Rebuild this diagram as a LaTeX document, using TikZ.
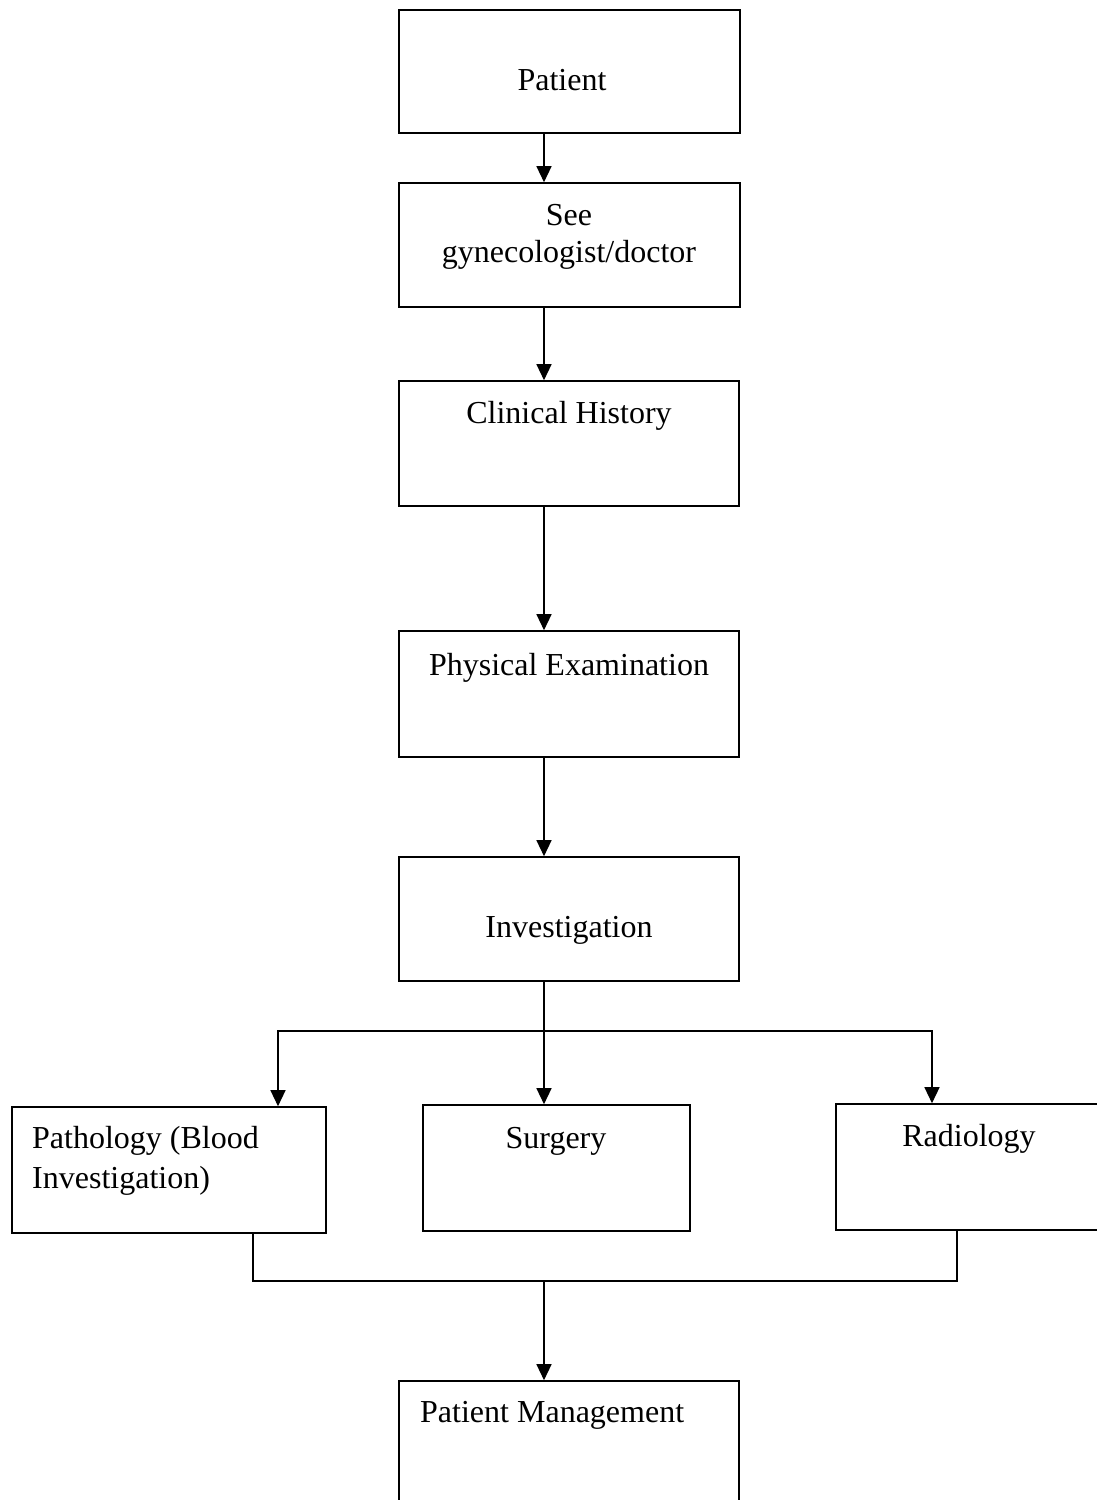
\documentclass[tikz,border=0pt]{standalone}
\usepackage{fontspec}
\setmainfont{Liberation Serif}
\usetikzlibrary{arrows.meta,fit}

\tikzset{
  box/.style={draw=black, line width=1.6pt, inner sep=0pt, fill=none},
  txt/.style={anchor=base, inner sep=0pt, font=\fontsize{32}{38}\selectfont},
  ltxt/.style={anchor=base west, inner sep=0pt, font=\fontsize{32}{38}\selectfont},
  link/.style={draw=black, line width=1.3pt},
  arr/.style={link, -{Triangle[length=16pt, width=15pt]}}
}

\begin{document}
\begin{tikzpicture}[x=1pt, y=-1pt]
  \useasboundingbox (0,0) rectangle (1097,1500);
  \clip (0,0) rectangle (1097,1500);
  \fill[white] (0,0) rectangle (1097,1500);

  % main column of boxes
  \node[box, fit={(399,10)(740,133)}]   (patient) {};
  \node[box, fit={(399,183)(740,307)}]  (see) {};
  \node[box, fit={(399,381)(739,506)}]  (clin) {};
  \node[box, fit={(399,631)(739,757)}]  (phys) {};
  \node[box, fit={(399,857)(739,981)}]  (inv) {};

  % the three branches
  \node[box, fit={(12,1107)(326,1233)}]   (path) {};
  \node[box, fit={(423,1105)(690,1231)}]  (surg) {};
  \node[box, fit={(836,1104)(1112,1230)}] (rad) {};

  % final box
  \node[box, fit={(399,1381)(739,1520)}] (mgmt) {};

  % labels
  \node[txt] at (562,90)  {Patient};
  \node[txt] at (569,225) {See};
  \node[txt] at (569,262) {gynecologist/doctor};
  \node[txt] at (569,423) {Clinical History};
  \node[txt] at (569,675) {Physical Examination};
  \node[txt] at (569,937) {Investigation};
  \node[ltxt] at (32,1148) {Pathology (Blood};
  \node[ltxt] at (32,1188) {Investigation)};
  \node[txt] at (556,1148) {Surgery};
  \node[txt] at (969,1146) {Radiology};
  \node[ltxt] at (420,1422) {Patient Management};

  % routing points
  \coordinate (spine) at (544,0);
  \coordinate (split) at (544,1031);
  \coordinate (lbr)   at (278,1031);
  \coordinate (rbr)   at (932,1031);
  \coordinate (lj)    at (253,1281);
  \coordinate (rj)    at (957,1281);
  \coordinate (join)  at (544,1281);

  % connectors down the column
  \draw[arr] (patient.south -| spine) -- (see.north -| spine);
  \draw[arr] (see.south -| spine) -- (clin.north -| spine);
  \draw[arr] (clin.south -| spine) -- (phys.north -| spine);
  \draw[arr] (phys.south -| spine) -- (inv.north -| spine);

  % split into the three branches
  \draw[arr] (inv.south -| spine) -- (surg.north -| spine);
  \draw[arr] (split) -| (path.north -| lbr);
  \draw[arr] (split) -| (rad.north -| rbr);

  % merge back to management
  \draw[link] (path.south -| lj) -- (lj) -- (rj) -- (rad.south -| rj);
  \draw[arr] (join) -- (mgmt.north -| spine);
\end{tikzpicture}
\end{document}
